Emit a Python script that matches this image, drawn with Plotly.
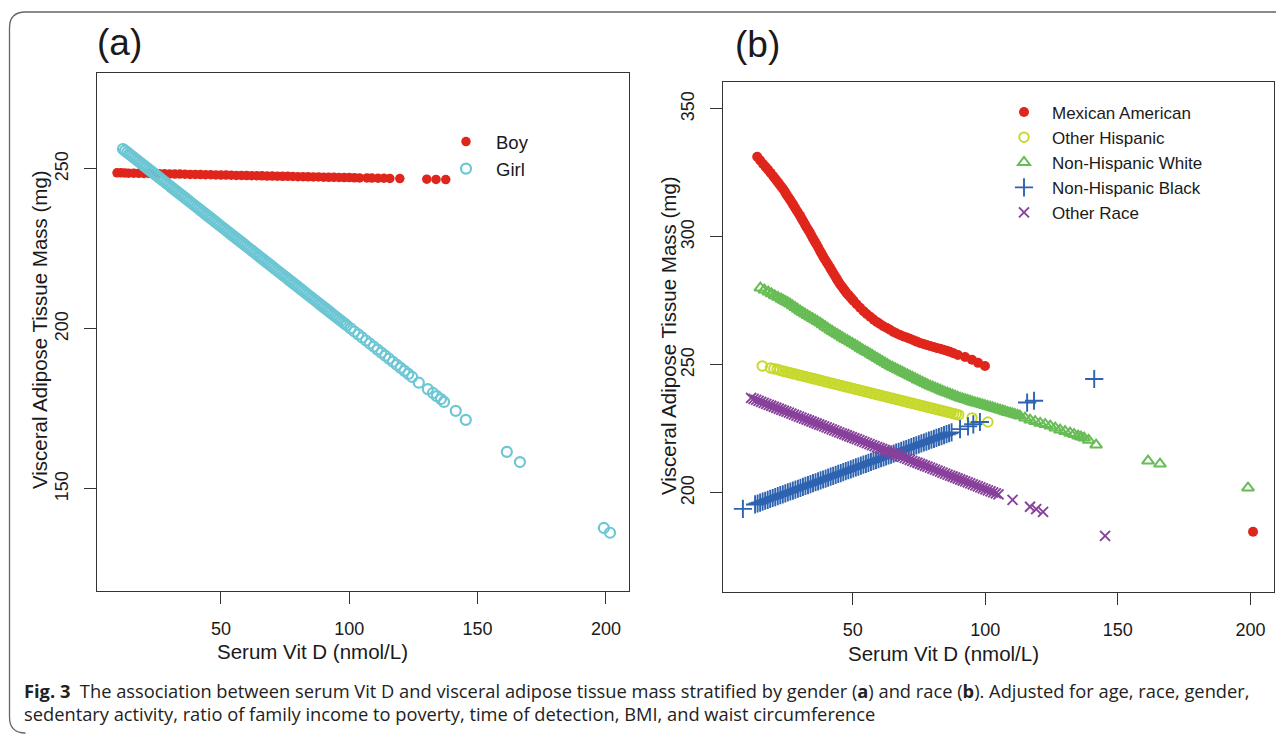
import plotly.graph_objects as go

# ---------------- data ----------------
boy_x = [9.5, 11, 12.5, 14, 16, 18, 20, 22, 24, 26, 28, 30, 32, 34, 36, 38, 40, 42, 44, 46, 48, 50,
         52, 54, 56, 58, 60, 62, 64, 66, 68, 70, 72, 74, 76, 78, 80, 82, 84, 86, 88, 90, 92, 94, 96,
         98, 100, 102, 104, 106.9, 108.8, 111.2, 113.5, 115.8, 119.7, 130.2, 133.8, 137.6]
boy_y = [248.8, 248.8, 248.75, 248.7, 248.7, 248.65, 248.6, 248.6, 248.55, 248.5, 248.5, 248.45,
         248.4, 248.4, 248.35, 248.3, 248.3, 248.25, 248.2, 248.2, 248.15, 248.1, 248.1, 248.05,
         248.0, 248.0, 247.95, 247.9, 247.9, 247.85, 247.8, 247.8, 247.75, 247.7, 247.7, 247.65,
         247.6, 247.6, 247.55, 247.5, 247.5, 247.45, 247.4, 247.4, 247.35, 247.3, 247.3, 247.25,
         247.2, 247.2, 247.15, 247.1, 247.1, 247.05, 247.0, 246.8, 246.75, 246.7]

girl_x = [11.8, 12.6, 13.5, 14.25, 15, 15.75, 16.5, 17.25, 18, 18.75, 19.5, 20.25, 21, 21.75, 22.5,
          23.25, 24, 24.75, 25.5, 26.25, 27, 27.75, 28.5, 29.25, 30, 30.75, 31.5, 32.25, 33, 33.75,
          34.5, 35.25, 36, 36.75, 37.5, 38.25, 39, 39.75, 40.5, 41.25, 42, 42.75, 43.5, 44.25, 45,
          45.75, 46.5, 47.25, 48, 48.75, 49.5, 50.25, 51, 51.75, 52.5, 53.25, 54, 54.75, 55.5,
          56.25, 57, 57.75, 58.5, 59.25, 60, 60.75, 61.5, 62.25, 63, 63.75, 64.5, 65.25, 66, 66.75,
          67.5, 68.25, 69, 69.75, 70.5, 71.25, 72, 72.75, 73.5, 74.25, 75, 75.75, 76.5, 77.25, 78,
          78.75, 79.5, 80.25, 81, 81.75, 82.5, 83.25, 84, 84.75, 85.5, 86.25, 87, 87.75, 88.5,
          89.25, 90, 90.75, 91.5, 92.25, 93, 93.75, 94.5, 95.25, 96, 96.75, 97.5, 98.25, 99,
          100.5, 102, 103.5, 105, 106.5, 108, 109.5, 111, 112.5, 114, 115.5, 117, 118.5, 120,
          121.5, 123, 124.5, 127.1, 130.6, 132.6, 134.1, 135.7, 136.9, 141.5, 145.4, 161.4, 166.5,
          199.2, 201.6]
girl_y = [256.25, 255.75, 255.2, 254.7, 254.23, 253.75, 253.28, 252.81, 252.33, 251.86, 251.38,
          250.91, 250.44, 249.96, 249.49, 249.01, 248.54, 248.07, 247.59, 247.12, 246.64, 246.17,
          245.7, 245.22, 244.75, 244.27, 243.8, 243.33, 242.85, 242.38, 241.9, 241.43, 240.96,
          240.48, 240.01, 239.53, 239.06, 238.59, 238.11, 237.64, 237.16, 236.69, 236.22, 235.74,
          235.27, 234.79, 234.32, 233.85, 233.37, 232.9, 232.42, 231.95, 231.48, 231.0, 230.53,
          230.05, 229.58, 229.11, 228.63, 228.16, 227.68, 227.21, 226.74, 226.26, 225.79, 225.31,
          224.84, 224.37, 223.89, 223.42, 222.94, 222.47, 222.0, 221.52, 221.05, 220.57, 220.1,
          219.63, 219.15, 218.68, 218.2, 217.73, 217.26, 216.78, 216.31, 215.83, 215.36, 214.89,
          214.41, 213.94, 213.46, 212.99, 212.52, 212.04, 211.57, 211.09, 210.62, 210.15, 209.67,
          209.2, 208.72, 208.25, 207.78, 207.3, 206.83, 206.35, 205.88, 205.41, 204.93, 204.46,
          203.98, 203.51, 203.04, 202.56, 202.09, 201.61, 201.14, 200.2, 199.2, 198.3, 197.35,
          196.4, 195.45, 194.5, 193.55, 192.6, 191.65, 190.7, 189.75, 188.8, 187.85, 186.9,
          185.95, 185.0, 183.2, 181.2, 180.0, 179.0, 178.1, 177.2, 174.4, 171.6, 161.6, 158.4,
          137.8, 136.3]

mex_x = [14.0, 15.1, 16.2, 17.15, 18.1, 19.05, 20.0, 20.65, 21.3, 21.95, 22.6, 23.25, 23.9, 24.5,
         25.1, 25.75, 26.4, 27.0, 27.6, 28.25, 28.9, 29.55, 30.2, 30.8, 31.4, 32.0, 32.6, 33.25,
         33.9, 34.5, 35.1, 35.75, 36.4, 37.05, 37.7, 38.3, 38.9, 39.55, 40.2, 40.85, 41.5, 42.1,
         42.7, 43.35, 44.0, 44.6, 45.2, 45.85, 46.5, 47.1, 47.7, 48.35, 49.0, 49.65, 50.3, 51.5,
         52.8, 54.1, 55.3, 56.6, 57.9, 59.1, 60.3, 61.6, 62.9, 64.1, 65.4, 66.6, 67.9, 69.2, 70.4,
         71.6, 72.9, 74.2, 75.4, 76.7, 77.9, 79.2, 80.5, 81.7, 83.0, 84.2, 85.5, 86.7, 88.0, 89.7,
         92.4, 95.0, 97.3, 99.9, 201.0]
mex_y = [331.3, 329.9, 328.5, 327.35, 326.2, 325.0, 323.8, 322.9, 322.0, 321.15, 320.3, 319.4,
         318.5, 317.5, 316.5, 315.5, 314.5, 313.5, 312.5, 311.4, 310.3, 309.25, 308.2, 307.1,
         306.0, 304.9, 303.8, 302.7, 301.6, 300.45, 299.3, 298.15, 297.0, 295.75, 294.5, 293.4,
         292.3, 291.2, 290.1, 289.0, 287.9, 286.85, 285.8, 284.7, 283.6, 282.6, 281.6, 280.7,
         279.8, 278.95, 278.1, 277.35, 276.6, 275.85, 275.1, 273.7, 272.3, 271.0, 269.9, 268.8,
         267.7, 266.8, 266.0, 265.1, 264.4, 263.7, 262.9, 262.3, 261.7, 261.1, 260.7, 260.2,
         259.6, 259.1, 258.6, 258.2, 257.8, 257.4, 257.0, 256.6, 256.3, 255.9, 255.5, 255.1,
         254.6, 253.9, 253.1, 252.0, 250.8, 249.6, 184.8]

ohisp_x = [15.9, 19.0, 20.3, 21.5, 22.5, 23.5, 24.45, 25.4, 26.35, 27.3, 28.25, 29.2, 30.15, 31.1,
           32.05, 33.0, 33.95, 34.9, 35.85, 36.8, 37.75, 38.7, 39.65, 40.6, 41.55, 42.5, 43.45,
           44.4, 45.35, 46.3, 47.25, 48.2, 49.15, 50.1, 51.05, 52.0, 52.95, 53.9, 54.85, 55.8,
           56.75, 57.7, 58.65, 59.6, 60.55, 61.5, 62.45, 63.4, 64.35, 65.3, 66.25, 67.2, 68.15,
           69.1, 70.05, 71.0, 71.95, 72.9, 73.85, 74.8, 75.75, 76.7, 77.65, 78.6, 79.55, 80.5,
           81.45, 82.4, 83.35, 84.3, 85.25, 86.2, 87.15, 88.1, 89.05, 90.0, 95.0, 101.0]
ohisp_y = [249.6, 248.8, 248.5, 248.3, 247.9, 247.64, 247.39, 247.15, 246.9, 246.66, 246.41,
           246.17, 245.92, 245.68, 245.43, 245.19, 244.94, 244.7, 244.45, 244.21, 243.96, 243.72,
           243.47, 243.23, 242.98, 242.74, 242.49, 242.25, 242.0, 241.75, 241.51, 241.26, 241.02,
           240.77, 240.53, 240.28, 240.04, 239.79, 239.55, 239.3, 239.06, 238.81, 238.57, 238.32,
           238.08, 237.83, 237.59, 237.34, 237.1, 236.85, 236.61, 236.36, 236.12, 235.87, 235.63,
           235.38, 235.14, 234.89, 234.65, 234.4, 234.16, 233.91, 233.67, 233.42, 233.18, 232.93,
           232.69, 232.44, 232.2, 231.95, 231.71, 231.46, 231.22, 230.97, 230.73, 230.48, 229.3,
           227.7]

nhw_x = [15.2, 16.7, 18.2, 19.4, 20.6, 21.8, 23.0, 23.85, 24.7, 25.55, 26.4, 27.35, 28.3, 29.25,
         30.2, 31.1, 32.0, 32.95, 33.9, 34.85, 35.8, 36.75, 37.7, 38.65, 39.6, 40.55, 41.5, 42.4,
         43.3, 44.25, 45.2, 46.15, 47.1, 48.05, 49.0, 49.95, 50.9, 51.85, 52.8, 53.75, 54.7, 55.65,
         56.6, 57.5, 58.4, 59.35, 60.3, 61.25, 62.2, 63.15, 64.1, 65.05, 66.0, 66.95, 67.9, 68.8,
         69.7, 70.65, 71.6, 72.55, 73.5, 74.45, 75.4, 76.35, 77.3, 78.25, 79.2, 80.15, 81.1,
         82.05, 83.0, 83.9, 84.8, 85.75, 86.7, 87.65, 88.6, 89.55, 90.5, 91.45, 92.4, 93.35, 94.3,
         95.2, 96.1, 97.05, 98.0, 98.95, 99.9, 100.85, 101.8, 102.75, 103.7, 104.65, 105.6,
         106.55, 107.5, 108.45, 109.4, 110.3, 111.2, 112.15, 113.1, 115.0, 116.9, 118.8, 120.7,
         122.6, 124.5, 126.4, 128.2, 130.1, 132.0, 133.5, 135.0, 136.1, 137.3, 139.0, 141.8,
         161.4, 165.9, 199.1]
nhw_y = [280.1, 279.3, 278.5, 277.8, 277.1, 276.45, 275.8, 275.3, 274.8, 274.3, 273.8, 273.15,
         272.5, 271.8, 271.1, 270.5, 269.9, 269.3, 268.75, 268.2, 267.6, 267.0, 266.4, 265.7,
         265.0, 264.35, 263.7, 263.1, 262.5, 261.9, 261.3, 260.7, 260.1, 259.55, 259.0, 258.4,
         257.8, 257.2, 256.6, 256.0, 255.4, 254.85, 254.3, 253.7, 253.1, 252.55, 252.0, 251.4,
         250.8, 250.2, 249.6, 249.1, 248.6, 248.15, 247.7, 247.2, 246.7, 246.2, 245.7, 245.2,
         244.7, 244.2, 243.75, 243.3, 242.8, 242.3, 241.8, 241.4, 241.0, 240.6, 240.2, 239.8,
         239.4, 239.05, 238.7, 238.3, 237.9, 237.5, 237.1, 236.8, 236.5, 236.2, 235.9, 235.6,
         235.3, 235.05, 234.8, 234.5, 234.2, 233.9, 233.6, 233.3, 233.0, 232.7, 232.4, 232.1,
         231.8, 231.5, 231.25, 231.0, 230.7, 230.4, 230.1, 229.3, 228.5, 227.9, 227.3, 226.8,
         226.2, 225.4, 224.6, 224.0, 223.4, 222.9, 222.3, 221.9, 221.5, 220.6, 218.75, 212.5,
         211.3, 202.0]

nhb_x = [8.6, 13.2, 14.15, 15.1, 16.05, 17.0, 17.95, 18.9, 19.85, 20.8, 21.75, 22.7, 23.65, 24.6,
         25.55, 26.5, 27.45, 28.4, 29.35, 30.3, 31.25, 32.2, 33.15, 34.1, 35.05, 36.0, 36.95,
         37.9, 38.85, 39.8, 40.75, 41.7, 42.65, 43.6, 44.55, 45.5, 46.45, 47.4, 48.35, 49.3,
         50.25, 51.2, 52.15, 53.1, 54.05, 55.0, 55.95, 56.9, 57.85, 58.8, 59.75, 60.7, 61.65,
         62.6, 63.55, 64.5, 65.45, 66.4, 67.35, 68.3, 69.25, 70.2, 71.15, 72.1, 73.05, 74.0,
         74.95, 75.9, 76.85, 77.8, 78.75, 79.7, 80.65, 81.6, 82.55, 83.5, 84.45, 85.4, 86.35,
         87.3, 90.5, 93.5, 95.5, 98.0, 115.8, 118.4, 141.1]
nhb_y = [193.75, 195.5, 195.86, 196.22, 196.58, 196.94, 197.3, 197.66, 198.02, 198.39, 198.75,
         199.11, 199.47, 199.83, 200.19, 200.55, 200.91, 201.27, 201.63, 201.99, 202.36, 202.72,
         203.08, 203.44, 203.8, 204.16, 204.52, 204.88, 205.24, 205.6, 205.97, 206.33, 206.69,
         207.05, 207.41, 207.77, 208.13, 208.49, 208.85, 209.22, 209.58, 209.94, 210.3, 210.66,
         211.02, 211.38, 211.74, 212.1, 212.47, 212.83, 213.19, 213.55, 213.91, 214.27, 214.63,
         214.99, 215.35, 215.71, 216.08, 216.44, 216.8, 217.16, 217.52, 217.88, 218.24, 218.6,
         218.96, 219.32, 219.69, 220.05, 220.41, 220.77, 221.13, 221.49, 221.85, 222.21, 222.57,
         222.93, 223.3, 223.66, 224.9, 226.0, 226.8, 227.7, 235.3, 236.0, 244.5]

orace_x = [11.7, 12.65, 13.6, 14.55, 15.5, 16.45, 17.4, 18.35, 19.3, 20.25, 21.2, 22.15, 23.1,
           24.05, 25.0, 25.95, 26.9, 27.85, 28.8, 29.75, 30.7, 31.65, 32.6, 33.55, 34.5, 35.45,
           36.4, 37.35, 38.3, 39.25, 40.2, 41.15, 42.1, 43.05, 44.0, 44.95, 45.9, 46.85, 47.8,
           48.75, 49.7, 50.65, 51.6, 52.55, 53.5, 54.45, 55.4, 56.35, 57.3, 58.25, 59.2, 60.15,
           61.1, 62.05, 63.0, 63.95, 64.9, 65.85, 66.8, 67.75, 68.7, 69.65, 70.6, 71.55, 72.5,
           73.45, 74.4, 75.35, 76.3, 77.25, 78.2, 79.15, 80.1, 81.05, 82.0, 82.95, 83.9, 84.85,
           85.8, 86.75, 87.7, 88.65, 89.6, 90.55, 91.5, 92.45, 93.4, 94.35, 95.3, 96.25, 97.2,
           98.15, 99.1, 100.05, 101.0, 102.0, 103.0, 104.0, 105.0, 110.3, 116.9, 119.2, 121.8,
           145.2]
orace_y = [237.1, 236.72, 236.33, 235.95, 235.56, 235.18, 234.8, 234.41, 234.03, 233.65, 233.26,
           232.88, 232.5, 232.11, 231.73, 231.34, 230.96, 230.58, 230.19, 229.81, 229.43, 229.04,
           228.66, 228.27, 227.89, 227.51, 227.12, 226.74, 226.36, 225.97, 225.59, 225.2, 224.82,
           224.44, 224.05, 223.67, 223.28, 222.9, 222.52, 222.13, 221.75, 221.37, 220.98, 220.6,
           220.21, 219.83, 219.45, 219.06, 218.68, 218.3, 217.91, 217.53, 217.14, 216.76, 216.38,
           215.99, 215.61, 215.22, 214.84, 214.46, 214.07, 213.69, 213.31, 212.92, 212.54, 212.15,
           211.77, 211.39, 211.0, 210.62, 210.24, 209.85, 209.47, 209.08, 208.7, 208.32, 207.93,
           207.55, 207.17, 206.78, 206.4, 206.01, 205.63, 205.25, 204.86, 204.48, 204.09, 203.71,
           203.33, 202.94, 202.56, 202.18, 201.79, 201.41, 201.02, 200.62, 200.21, 199.81, 199.41,
           197.3, 194.6, 193.7, 192.6, 183.2]

xticks = [50, 100, 150, 200]
yticks_a = [150, 200, 250]
yticks_b = [200, 250, 300, 350]

# ---------------- page geometry ----------------
# the page body has an 8px margin, so the figure is drawn 8px in from the window corner
OFF = 8
W, H = 1284 - OFF, 734 - OFF


def fx(p):  # window pixel -> paper x
    return (p - OFF) / W


def fy(p):  # window pixel -> paper y
    return 1 - (p - OFF) / H


FONT = "Liberation Sans, Arial, sans-serif"
TXT = "#1a1a1a"
RED = "#E0261C"
CYAN = "#6CC6D4"
YEL = "#C6D92C"
GRN = "#67BC55"
BLU = "#2D63B0"
PUR = "#88419B"

fig = go.Figure()

fig.add_trace(go.Scatter(x=boy_x, y=boy_y, mode="markers", name="Boy",
                         marker=dict(symbol="circle", size=9.5, color=RED),
                         xaxis="x", yaxis="y", legend="legend"))
fig.add_trace(go.Scatter(x=girl_x, y=girl_y, mode="markers", name="Girl",
                         marker=dict(symbol="circle-open", size=10, color=CYAN,
                                     line=dict(width=2.2, color=CYAN)),
                         xaxis="x", yaxis="y", legend="legend"))

fig.add_trace(go.Scatter(x=mex_x, y=mex_y, mode="markers", name="Mexican American",
                         marker=dict(symbol="circle", size=10, color=RED),
                         xaxis="x2", yaxis="y2", legend="legend2"))
fig.add_trace(go.Scatter(x=ohisp_x, y=ohisp_y, mode="markers", name="Other Hispanic",
                         marker=dict(symbol="circle-open", size=9.5, color=YEL,
                                     line=dict(width=2.0, color=YEL)),
                         xaxis="x2", yaxis="y2", legend="legend2"))
fig.add_trace(go.Scatter(x=nhw_x, y=nhw_y, mode="markers", name="Non-Hispanic White",
                         marker=dict(symbol="triangle-up-open", size=10.5, color=GRN,
                                     line=dict(width=2.0, color=GRN)),
                         xaxis="x2", yaxis="y2", legend="legend2"))
fig.add_trace(go.Scatter(x=nhb_x, y=nhb_y, mode="markers", name="Non-Hispanic Black",
                         marker=dict(symbol="cross-thin-open", size=13, color=BLU,
                                     line=dict(width=1.9, color=BLU)),
                         xaxis="x2", yaxis="y2", legend="legend2"))
fig.add_trace(go.Scatter(x=orace_x, y=orace_y, mode="markers", name="Other Race",
                         marker=dict(symbol="x-thin-open", size=10, color=PUR,
                                     line=dict(width=1.9, color=PUR)),
                         xaxis="x2", yaxis="y2", legend="legend2"))

axis_common = dict(showline=True, mirror=True, linecolor="#333333", linewidth=1.2,
                   ticks="outside", ticklen=12, tickwidth=1.2, tickcolor="#333333",
                   showgrid=False, zeroline=False,
                   tickfont=dict(family=FONT, size=18, color=TXT))

fig.update_layout(
    width=W, height=H,
    margin=dict(l=0, r=0, t=0, b=0),
    paper_bgcolor="white", plot_bgcolor="white",
    xaxis=dict(domain=[fx(97), fx(629)], range=[1.7, 209], tickvals=xticks,
               ticklabelstandoff=9, anchor="y", **axis_common),
    yaxis=dict(domain=[fy(591), fy(73)], range=[118.1, 280], tickvals=yticks_a,
               tickangle=-90, ticklabelstandoff=9, anchor="x", **axis_common),
    xaxis2=dict(domain=[fx(723), fx(1274)], range=[1.1, 208.9], tickvals=xticks,
                ticklabelstandoff=9, anchor="y2", **axis_common),
    yaxis2=dict(domain=[fy(592), fy(82)], range=[161.3, 360.5], tickvals=yticks_b,
                tickangle=-90, ticklabelstandoff=9, anchor="x2", **axis_common),
    legend=dict(x=fx(436), y=fy(123), xanchor="left", yanchor="top", itemwidth=50,
                bgcolor="rgba(0,0,0,0)", font=dict(family=FONT, size=18.5, color=TXT),
                itemclick=False, itemdoubleclick=False),
    legend2=dict(x=fx(996), y=fy(94.5), xanchor="left", yanchor="top", itemwidth=46,
                 bgcolor="rgba(0,0,0,0)", font=dict(family=FONT, size=17, color=TXT),
                 itemclick=False, itemdoubleclick=False),
    showlegend=True,
)

ann = []
ann.append(dict(text="(a)", x=fx(95), y=fy(42), xref="paper", yref="paper", xanchor="left",
                yanchor="middle", showarrow=False, font=dict(family=FONT, size=37, color=TXT)))
ann.append(dict(text="(b)", x=fx(733), y=fy(44), xref="paper", yref="paper", xanchor="left",
                yanchor="middle", showarrow=False, font=dict(family=FONT, size=37, color=TXT)))
ann.append(dict(text="Serum Vit D (nmol/L)", x=fx(312), y=fy(651), xref="paper", yref="paper",
                xanchor="center", yanchor="middle", showarrow=False,
                font=dict(family=FONT, size=20.5, color=TXT)))
ann.append(dict(text="Serum Vit D (nmol/L)", x=fx(943), y=fy(653), xref="paper", yref="paper",
                xanchor="center", yanchor="middle", showarrow=False,
                font=dict(family=FONT, size=20.5, color=TXT)))
ann.append(dict(text="Visceral Adipose Tissue Mass (mg)", x=fx(40), y=fy(330), xref="paper",
                yref="paper", xanchor="center", yanchor="middle", textangle=-90, showarrow=False,
                font=dict(family=FONT, size=20.5, color=TXT)))
ann.append(dict(text="Visceral Adipose Tissue Mass (mg)", x=fx(668), y=fy(336), xref="paper",
                yref="paper", xanchor="center", yanchor="middle", textangle=-90, showarrow=False,
                font=dict(family=FONT, size=20.5, color=TXT)))
CAP = "Open Sans, Noto Sans, sans-serif"
ann.append(dict(text="<b>Fig. 3</b>  The association between serum Vit D and visceral adipose tissue "
                     "mass stratified by gender (<b>a</b>) and race (<b>b</b>). Adjusted for age, race, gender,",
                x=fx(22), y=fy(690), xref="paper", yref="paper", xanchor="left", yanchor="middle",
                showarrow=False, font=dict(family=CAP, size=18.3, color="#222222")))
ann.append(dict(text="sedentary activity, ratio of family income to poverty, time of detection, BMI, "
                     "and waist circumference",
                x=fx(22), y=fy(713), xref="paper", yref="paper", xanchor="left", yanchor="middle",
                showarrow=False, font=dict(family=CAP, size=18.3, color="#222222")))
fig.update_layout(annotations=ann)

# rounded outer frame (top edge runs off to the right, bottom-left corner just visible)
x0, y0, x1, y1, r = 9.5, 12, 1300, 733, 16
path = (f"M {fx(x0)},{fy(y1 - r)} L {fx(x0)},{fy(y0 + r)} "
        f"Q {fx(x0)},{fy(y0)} {fx(x0 + r)},{fy(y0)} L {fx(x1)},{fy(y0)} "
        f"M {fx(x0)},{fy(y1 - r)} Q {fx(x0)},{fy(y1)} {fx(x0 + r)},{fy(y1)}")
fig.add_shape(type="path", path=path, xref="paper", yref="paper",
              line=dict(color="#666666", width=1.3))

fig.write_html("out.html")
